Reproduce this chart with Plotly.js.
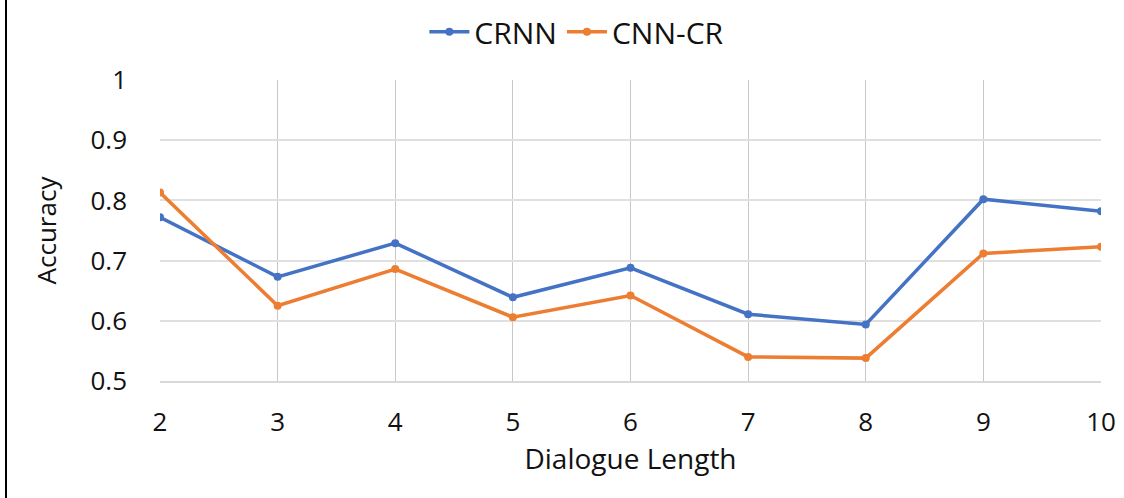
<!DOCTYPE html>
<html>
<head>
<meta charset="utf-8">
<script src="https://cdn.plot.ly/plotly-3.0.1.min.js"></script>
<style>html,body{margin:0;padding:0;background:#fff;}#chart{width:1124px;height:498px;}</style>
</head>
<body>
<div id="chart"></div>
<script>
const dialogueLength = [2, 3, 4, 5, 6, 7, 8, 9, 10];
const crnn = [0.772, 0.673, 0.729, 0.639, 0.688, 0.611, 0.594, 0.802, 0.782];
const cnnCr = [0.813, 0.625, 0.686, 0.606, 0.642, 0.540, 0.538, 0.712, 0.723];
const yTicks = [0.5, 0.6, 0.7, 0.8, 0.9, 1];
const yTickText = ['0.5', '0.6', '0.7', '0.8', '0.9', '1'];

const font = 'Open Sans, Noto Sans, sans-serif';
const traces = [
  {x: dialogueLength, y: crnn, name: 'CRNN', type: 'scatter', mode: 'lines+markers',
   line: {color: '#4472C4', width: 3.5}, marker: {color: '#4472C4', size: 8}},
  {x: dialogueLength, y: cnnCr, name: 'CNN-CR', type: 'scatter', mode: 'lines+markers',
   line: {color: '#ED7D31', width: 3.5}, marker: {color: '#ED7D31', size: 8}}
];
const layout = {
  width: 1124, height: 498,
  margin: {l: 160, r: 23, t: 80, b: 117, autoexpand: false},
  paper_bgcolor: '#fff', plot_bgcolor: '#fff',
  font: {family: font, color: '#111', size: 26},
  showlegend: true,
  legend: {orientation: 'h', x: 0.443, xanchor: 'center', y: 1.16, yanchor: 'middle',
           font: {size: 30, color: '#111'}, itemwidth: 40, tracegroupgap: 0},
  xaxis: {
    range: [2, 10], tickmode: 'array', tickvals: dialogueLength, ticktext: dialogueLength.map(String),
    showgrid: true, gridcolor: '#c8c8c8', gridwidth: 1, zeroline: false,
    showline: true, linecolor: '#d9d9d9', linewidth: 2, ticks: '', ticklabelstandoff: 17,
    tickfont: {size: 26, color: '#111'},
    title: {text: 'Dialogue Length', font: {size: 28, color: '#111'}, standoff: 8}
  },
  yaxis: {
    range: [0.5, 1], tickmode: 'array', tickvals: yTicks, ticktext: yTickText,
    showgrid: true, gridcolor: '#e0e0e0', gridwidth: 2, zeroline: false,
    showline: false, ticks: '', ticklabelstandoff: 32,
    tickfont: {size: 26, color: '#111'},
    title: {text: 'Accuracy', font: {size: 26, color: '#111'}, standoff: 26}
  },
  shapes: [
    {type: 'line', xref: 'paper', yref: 'paper', x0: (6 - 160) / 941, x1: (6 - 160) / 941,
     y0: -117 / 301, y1: 1 + 80 / 301, line: {color: '#000', width: 2}}
  ]
};
Plotly.newPlot('chart', traces, layout, {displayModeBar: false, staticPlot: true});
</script>
</body>
</html>
